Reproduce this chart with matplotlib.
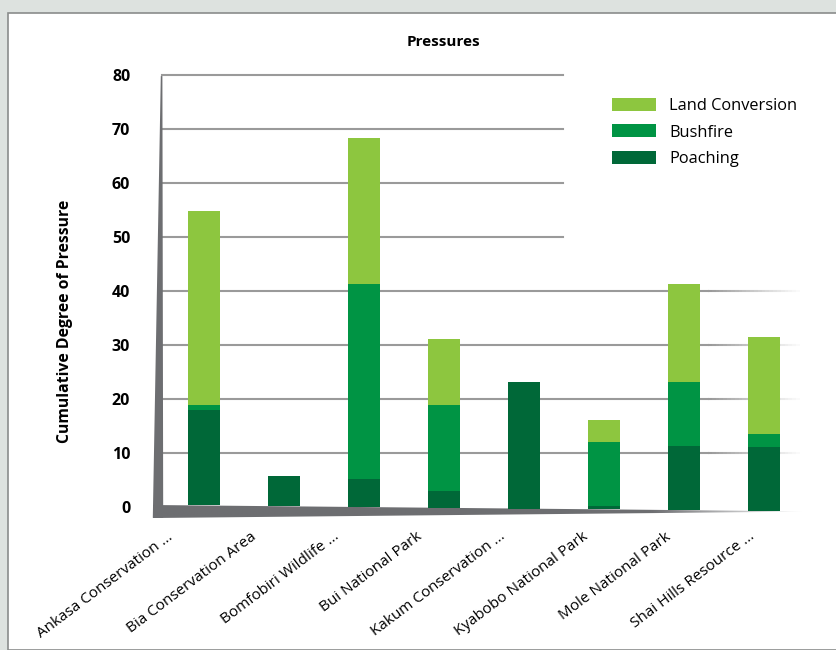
import numpy as np
import matplotlib.pyplot as plt
from matplotlib.patches import Polygon, Rectangle
from matplotlib.colors import to_rgb
from matplotlib.transforms import ScaledTranslation

plt.rcParams['font.family'] = ['Open Sans', 'DejaVu Sans']

# Data
sites = ["Ankasa Conservation ...", "Bia Conservation Area", "Bomfobiri Wildlife ...",
         "Bui National Park", "Kakum Conservation ...", "Kyabobo National Park",
         "Mole National Park", "Shai Hills Resource ..."]
poaching = [17.6, 5.6, 5.2, 3.1, 23.4, 0.7, 11.8, 11.8]
bushfire = [1.1, 0.0, 36.1, 16.0, 0.0, 11.7, 11.9, 2.5]
land_conversion = [35.9, 0.0, 27.0, 12.2, 0.0, 4.1, 18.1, 17.9]
y_ticks = [0, 10, 20, 30, 40, 50, 60, 70, 80]

c_land = '#8dc63f'
c_bush = '#009444'
c_poach = '#006838'
c_grey = '#6d6e71'

W, H = 837, 650
fig = plt.figure(figsize=(W / 100, H / 100), dpi=100)
fig.patch.set_facecolor('#dde2df')
fig.add_artist(Rectangle((8 / W, 0), (W - 8) / W, (H - 13) / H, transform=fig.transFigure,
                         facecolor='white', edgecolor='#8a8c8b', linewidth=1.2, zorder=0))

ax = fig.add_axes([140 / W, (H - 530) / H, 680 / W, 460 / H])
xlim = (-0.8, 7.7)
ylim = (-23 / 5.4, 437 / 5.4)
ax.patch.set_alpha(0)
for s in ax.spines.values():
    s.set_visible(False)

x = np.arange(len(sites))

# gridlines: upper ones stop short, lower ones fade out to the right
for v in y_ticks[1:]:
    if v >= 50:
        ax.plot([-0.525, 4.49], [v, v], color='#9a9a9a', lw=1.5, zorder=1)
    else:
        ax.plot([-0.525, 6.3], [v, v], color='#9a9a9a', lw=1.5, zorder=1)
        fx = np.linspace(6.3, 7.45, 25)
        for i in range(len(fx) - 1):
            ax.plot(fx[i:i + 2], [v, v], color='#9a9a9a', lw=1.5,
                    alpha=1 - i / (len(fx) - 1), zorder=1, solid_capstyle='butt')

# left wall
ax.add_patch(Polygon([(-0.64, -2.0), (-0.51, -2.0), (-0.52, 79.8), (-0.54, 79.8)],
                     closed=True, facecolor=c_grey, edgecolor='none', zorder=2))

# sloping floor: one polygon filled with a gradient that fades at the right end
fl_x = [-0.64, 7.51]
fl_top = [0.37, -0.8]
fl_bot = [-2.04, -0.85]
floor = Polygon([(fl_x[0], fl_top[0]), (fl_x[1], fl_top[1]), (fl_x[1], fl_bot[1]),
                 (fl_x[0], fl_bot[0])], closed=True, facecolor='none', edgecolor='none', zorder=2)
ax.add_patch(floor)
gx = np.linspace(fl_x[0], fl_x[1], 400)
img = np.zeros((2, len(gx), 4))
img[..., :3] = to_rgb(c_grey)
img[..., 3] = np.clip(1 - (gx - 5.6) / 1.9, 0, 1)
im = ax.imshow(img, extent=(fl_x[0], fl_x[1], -2.1, 0.4), aspect='auto', origin='lower',
               interpolation='bilinear', zorder=2)
im.set_clip_path(floor)

# bars stand on the sloping floor
base = np.interp(x, fl_x, fl_top)
bw = 0.4
ax.bar(x, poaching, bw, bottom=base, color=c_poach, label='Poaching', zorder=3)
ax.bar(x, bushfire, bw, bottom=base + np.array(poaching), color=c_bush,
       label='Bushfire', zorder=3)
ax.bar(x, land_conversion, bw, bottom=base + np.add(poaching, bushfire), color=c_land,
       label='Land Conversion', zorder=3)

ax.set_xlim(*xlim)
ax.set_ylim(*ylim)

ax.set_yticks(y_ticks)
ax.set_yticklabels([str(v) for v in y_ticks], fontsize=11.5, fontweight='bold')
ax.tick_params(axis='y', length=0, pad=7)
ax.set_xticks(x)
ax.set_xticklabels(sites, rotation=37, ha='right', rotation_mode='anchor', fontsize=11)
ax.tick_params(axis='x', length=0, pad=8)
for i, lab in enumerate(ax.get_xticklabels()):
    lab.set_transform(lab.get_transform() +
                      ScaledTranslation((-37 + 3 * i) / 100, 0.12, fig.dpi_scale_trans))

fig.text(443 / W, 1 - 42 / H, 'Pressures', ha='center', va='center',
         fontsize=11, fontweight='bold')
fig.text(65 / W, 1 - 321 / H, 'Cumulative Degree of Pressure', ha='center', va='center',
         rotation=90, fontsize=11.3, fontweight='bold')

h, l = ax.get_legend_handles_labels()
ax.legend(h[::-1], l[::-1], loc='upper left', bbox_to_anchor=(612 / W, 1 - 98 / H),
          bbox_transform=fig.transFigure, frameon=False, fontsize=11.8,
          handlelength=2.7, handleheight=0.85, handletextpad=0.8,
          labelspacing=0.62, borderpad=0, borderaxespad=0)

fig.savefig('out.png', dpi=100)
